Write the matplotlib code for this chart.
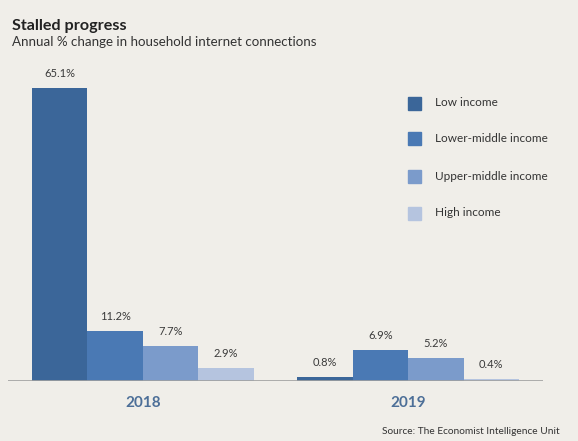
import matplotlib
matplotlib.use("Agg")
import matplotlib.pyplot as plt
import matplotlib.patches as mpatches
import numpy as np

years = ["2018", "2019"]
groups = ["Low income", "Lower-middle income", "Upper-middle income", "High income"]
values = {
    "Low income": [65.1, 0.8],
    "Lower-middle income": [11.2, 6.9],
    "Upper-middle income": [7.7, 5.2],
    "High income": [2.9, 0.4],
}
colors = ["#3b6699", "#4a79b4", "#7b9bcb", "#b5c4df"]

bg = "#f0eee9"
W, H = 578, 441

plt.rcParams['font.family'] = ['Lato', 'DejaVu Sans']

fig = plt.figure(figsize=(W / 100, H / 100), dpi=100, facecolor=bg)
# axes placed in pixel coords: x 8..543, baseline at y=381, top at y=70
ax = fig.add_axes([8 / W, 1 - 381 / H, (543 - 8) / W, (381 - 70) / H])
ax.set_facecolor(bg)

x = np.arange(len(years))
width = 0.2094
for i, (g, c) in enumerate(zip(groups, colors)):
    pos = x + (i - 1.5) * width
    bars = ax.bar(pos, values[g], width=width, color=c, label=g, zorder=2)
    for b, v in zip(bars, values[g]):
        ax.annotate(f"{v}%", (b.get_x() + b.get_width() / 2, v),
                    xytext=(0, 6.5), textcoords="offset points",
                    ha="center", va="bottom", fontsize=8, color="#3a3a3a")

ax.set_xlim(-0.509, 1.509)
ax.set_ylim(0, 311 / 4.5)
ax.axhline(0, color="#a0a0a0", lw=1.2, zorder=3)
for s in ax.spines.values():
    s.set_visible(False)
ax.set_yticks([])
ax.set_xticks(x)
ax.set_xticklabels(years, fontsize=11, fontweight="bold", color="#4d6f98")
ax.tick_params(axis="x", length=0, pad=11)

fig.text(12 / W, 1 - 26 / H, "Stalled progress", fontsize=11.6, fontweight="bold",
         color="#222222", va="center", ha="left")
fig.text(12 / W, 1 - 42 / H, "Annual % change in household internet connections",
         fontsize=9.6, color="#333333", va="center", ha="left")
fig.text(560 / W, 1 - 431 / H, "Source: The Economist Intelligence Unit",
         fontsize=7.3, color="#333333", va="center", ha="right")

# legend drawn as squares + text
leg_y = [103, 138, 176, 213]
for g, c, yy in zip(groups, colors, leg_y):
    fig.patches.append(mpatches.Rectangle((408 / W, 1 - (yy + 6.5) / H), 13 / W, 13 / H,
                                          transform=fig.transFigure, color=c))
    fig.text(435 / W, 1 - yy / H, g, fontsize=8.5, color="#333333",
             va="center", ha="left")

fig.savefig("out.png", dpi=100, facecolor=bg)
